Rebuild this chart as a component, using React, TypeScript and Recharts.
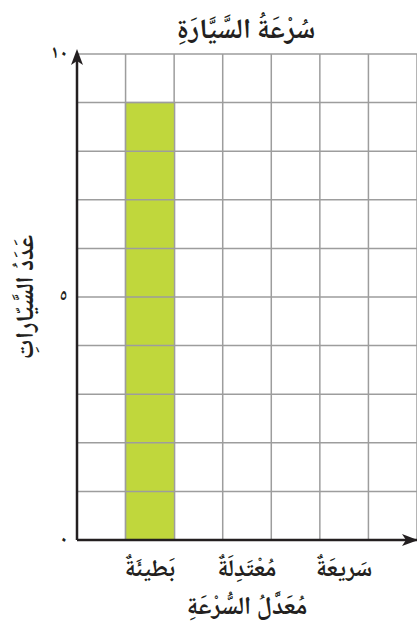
import { BarChart, Bar, XAxis, YAxis, CartesianGrid, Label } from "recharts";

const chartTitle = "سُرْعَةُ السَّيَّارَةِ";
const xTitle = "مُعَدَّلُ السُّرْعَةِ";
const yTitle = "عَدَدُ السَّيّاراتِ";
const speedLabels = ["بَطيئَةٌ", "مُعْتَدِلَةٌ", "سَريعَةٌ"];
const carCounts: (number | null)[] = [9, null, null];
const yTicks = [0, 1, 2, 3, 4, 5, 6, 7, 8, 9, 10];
const yLabelTicks = [0, 5, 10];
const columnTicks = [0, 1, 2, 3, 4, 5, 6, 7];

// every other column holds a category, the rest are spacers
const data = Array.from({ length: 7 }, (_, i) => {
  const k = (i - 1) / 2;
  const used = i % 2 === 1;
  return { slot: `s${i}`, label: used ? speedLabels[k] : "", cars: used ? carCounts[k] : null };
});

const FONT = "'Noto Naskh Arabic', 'Noto Sans Arabic', 'DejaVu Sans', sans-serif";
const INK = "#231f20";
const RED = "#e2232a";
const GRID = "#9d9d9d";
const MARK = /[\u064B-\u0652\u0670]/;

const toArabicDigits = (n: number) => String(n).replace(/\d/g, (d) => "٠١٢٣٤٥٦٧٨٩"[+d]);

function Voweled({ text }: { text: string }) {
  const parts: { t: string; mark: boolean }[] = [];
  for (const ch of text) {
    const mark = MARK.test(ch);
    const last = parts[parts.length - 1];
    if (last && last.mark === mark) last.t += ch;
    else parts.push({ t: ch, mark });
  }
  return (
    <>
      {parts.map((p, i) => (
        <tspan key={i} fill={p.mark ? RED : INK}>
          {p.t}
        </tspan>
      ))}
    </>
  );
}

const YTick = ({ x, y, payload }: any) => {
  if (!yLabelTicks.includes(payload.value)) return <g />;
  return (
    <text x={x - 1} y={y} textAnchor="end" dominantBaseline="central" fontFamily={FONT} fontSize={18} fontWeight={700} fill={INK}>
      {toArabicDigits(payload.value)}
    </text>
  );
};

const XTick = ({ x, y, payload, index }: any) => {
  const label = data[index]?.label;
  if (!label) return <g />;
  return (
    <text x={x} y={y + 28} textAnchor="middle" fontFamily={FONT} fontSize={24} fontWeight={700} direction="rtl">
      <Voweled text={label} />
    </text>
  );
};

// bar with the unit grid lines drawn over it, as on the printed sheet
const GriddedBar = (props: any) => {
  const { x, y, width, height, value } = props;
  if (!height || !value) return <g />;
  const n = Array.isArray(value) ? value[1] - value[0] : value;
  const step = height / n;
  return (
    <g>
      <rect x={x} y={y} width={width} height={height} fill="#c0d73c" stroke={GRID} strokeWidth={1.5} />
      {Array.from({ length: n - 1 }, (_, i) => (
        <line key={i} x1={x} x2={x + width} y1={y + step * (i + 1)} y2={y + step * (i + 1)} stroke={GRID} strokeWidth={1.5} />
      ))}
    </g>
  );
};

export default function App() {
  return (
    <div style={{ position: "absolute", left: 0, top: 0, width: 417, height: 628, background: "#fff" }}>
      <BarChart width={417} height={628} data={data} margin={{ top: 54, right: 0, bottom: 0, left: 0 }} barCategoryGap={0}>
        <defs>
          <marker id="yArrow" viewBox="0 0 16 12" markerWidth={16} markerHeight={12} refX={11} refY={6} orient="auto-start-reverse" markerUnits="userSpaceOnUse">
            <path d="M0,0 L16,6 L0,12 L4,6 Z" fill={INK} />
          </marker>
          <marker id="xArrow" viewBox="0 0 16 12" markerWidth={16} markerHeight={12} refX={15} refY={6} orient="auto-start-reverse" markerUnits="userSpaceOnUse">
            <path d="M0,0 L16,6 L0,12 L4,6 Z" fill={INK} />
          </marker>
        </defs>
        <text x={246} y={38} textAnchor="middle" fontFamily={FONT} fontSize={28} fontWeight={700} direction="rtl">
          <Voweled text={chartTitle} />
        </text>
        <XAxis xAxisId="grid" type="number" dataKey={() => 0} domain={[0, 7]} ticks={columnTicks} hide />
        <XAxis
          xAxisId="cat"
          dataKey="slot"
          height={88}
          tickLine={false}
          tick={<XTick />}
          interval={0}
          axisLine={{ stroke: INK, strokeWidth: 2.5, markerEnd: "url(#xArrow)" }}
        >
          <Label
            content={({ viewBox }: any) => (
              <text x={247} y={viewBox.y + 74} textAnchor="middle" fontFamily={FONT} fontSize={25} fontWeight={700} direction="rtl">
                <Voweled text={xTitle} />
              </text>
            )}
          />
        </XAxis>
        <YAxis
          width={77}
          domain={[0, 10]}
          ticks={yTicks}
          interval={0}
          tickLine={false}
          tick={<YTick />}
          axisLine={{ stroke: INK, strokeWidth: 2.5, markerStart: "url(#yArrow)" }}
        >
          <Label
            content={({ viewBox }: any) => {
              const cx = 27;
              const cy = viewBox.y + viewBox.height / 2;
              return (
                <text x={cx} y={cy} transform={`rotate(-90 ${cx} ${cy})`} textAnchor="middle" dominantBaseline="central" fontFamily={FONT} fontSize={25} fontWeight={700} direction="rtl">
                  <Voweled text={yTitle} />
                </text>
              );
            }}
          />
        </YAxis>
        <CartesianGrid xAxisId="grid" stroke={GRID} strokeWidth={1.5} />
        <Bar xAxisId="cat" dataKey="cars" shape={<GriddedBar />} isAnimationActive={false} />
      </BarChart>
    </div>
  );
}
